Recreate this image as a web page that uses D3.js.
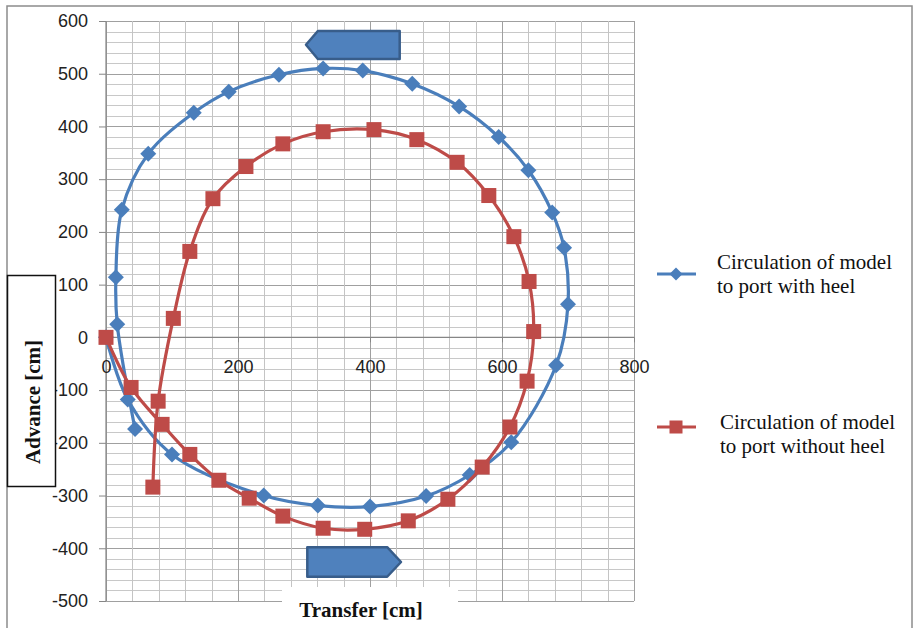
<!DOCTYPE html>
<html><head><meta charset="utf-8">
<script src="https://cdn.jsdelivr.net/npm/d3@7"></script>
<style>body{margin:0;background:#fff}svg{display:block}</style>
</head><body>
<svg id="c" width="915" height="628"></svg>
<script>
// ---- data ----
const withHeelX = [0, 33, 100, 239, 321, 400, 485, 551, 614, 682, 700, 694, 676, 640, 595, 535, 464, 389, 329, 262, 186, 133, 64, 24, 15, 17, 44];
const withHeelY = [0, -118, -222, -300, -319, -321, -301, -261, -199, -53, 63, 170, 237, 317, 380, 438, 481, 506, 510, 498, 466, 426, 348, 242, 114, 25, -174];
const withoutHeelX = [0, 38, 85, 127, 171, 217, 268, 329, 392, 458, 518, 570, 612, 638, 648, 641, 618, 580, 532, 471, 406, 329, 268, 212, 162, 127, 102, 79, 71];
const withoutHeelY = [0, -95, -165, -222, -271, -305, -339, -362, -364, -348, -307, -246, -170, -83, 11, 106, 191, 269, 332, 375, 394, 390, 367, 324, 263, 163, 36, -121, -284];
const xTicks = [0, 200, 400, 600, 800];
const yTicks = [-500, -400, -300, -200, -100, 0, 100, 200, 300, 400, 500, 600];
const seriesNames = [["Circulation of model", "to port with heel"], ["Circulation of model", "to port without heel"]];
const xTitle = "Transfer [cm]";
const yTitle = "Advance [cm]";

const blue = "#4a7ebb", red = "#be4b48";
const svg = d3.select("#c");
const x = d3.scaleLinear().domain([0, 800]).range([106, 634]);
const y = d3.scaleLinear().domain([-500, 600]).range([601, 21]);

// outer border
svg.append("rect").attr("x", 7).attr("y", 6).attr("width", 905).attr("height", 640)
  .attr("fill", "none").attr("stroke", "#8c8c8c").attr("stroke-width", 1.5);

// grid
const g = svg.append("g");
d3.range(-500, 601, 20).forEach(v => {
  const major = v % 100 === 0;
  g.append("line").attr("x1", x(0)).attr("x2", x(800)).attr("y1", Math.round(y(v)) + 0.5).attr("y2", Math.round(y(v)) + 0.5)
    .attr("stroke", major ? "#a0a0a0" : "#c8c8c8").attr("stroke-width", 1);
});
d3.range(0, 801, 40).forEach(v => {
  const major = v % 200 === 0;
  g.append("line").attr("y1", y(600)).attr("y2", y(-500)).attr("x1", Math.round(x(v)) + 0.5).attr("x2", Math.round(x(v)) + 0.5)
    .attr("stroke", major ? "#a0a0a0" : "#c4c4c4").attr("stroke-width", 1);
});
// axes lines
g.append("line").attr("x1", x(0)).attr("x2", x(800)).attr("y1", y(0)).attr("y2", y(0)).attr("stroke", "#868686").attr("stroke-width", 1.2);
g.append("line").attr("x1", x(0)).attr("x2", x(0)).attr("y1", y(600)).attr("y2", y(-500)).attr("stroke", "#868686").attr("stroke-width", 1.2);

const fmt = d => String(d);
// y axis ticks & labels
const yAxis = d3.axisLeft(y).tickValues(yTicks).tickSize(7).tickPadding(11).tickFormat(fmt);
svg.append("g").attr("transform", `translate(${x(0)},0)`).call(yAxis)
  .call(a => { a.select(".domain").remove(); a.selectAll("line").attr("stroke", "#868686");
    a.selectAll("text").attr("font-family", "Liberation Sans, Arial, sans-serif").attr("font-size", 18).attr("fill", "#222"); });
// x axis ticks & labels
const xAxis = d3.axisBottom(x).tickValues(xTicks).tickSize(5).tickPadding(18).tickFormat(fmt);
svg.append("g").attr("transform", `translate(0,${y(0)})`).call(xAxis)
  .call(a => { a.select(".domain").remove(); a.selectAll("line").attr("stroke", "#868686");
    a.selectAll("text").attr("font-family", "Liberation Sans, Arial, sans-serif").attr("font-size", 18).attr("fill", "#222"); });

// series
const line = d3.line().x(d => x(d[0])).y(d => y(d[1])).curve(d3.curveCatmullRom.alpha(0.5));
const s1 = withHeelX.map((v, i) => [v, withHeelY[i]]);
const s2 = withoutHeelX.map((v, i) => [v, withoutHeelY[i]]);
const diamond = s => `M0,${-s}L${s},0L0,${s}L${-s},0Z`;

svg.append("path").datum(s1).attr("d", line).attr("fill", "none").attr("stroke", blue).attr("stroke-width", 3.2);
svg.append("g").selectAll("path").data(s1).join("path")
  .attr("d", diamond(8)).attr("transform", d => `translate(${x(d[0])},${y(d[1])})`).attr("fill", blue);

svg.append("path").datum(s2).attr("d", line).attr("fill", "none").attr("stroke", red).attr("stroke-width", 3.2);
svg.append("g").selectAll("rect").data(s2).join("rect")
  .attr("x", d => x(d[0]) - 7.5).attr("y", d => y(d[1]) - 7.5).attr("width", 15).attr("height", 15).attr("fill", red);

// arrows (annotation shapes)
const arrowFill = "#4f81bd", arrowStroke = "#385d8a";
const topA = [[303, 555], [321, 581], [445, 581], [445, 528], [321, 528]];
svg.append("path").attr("d", "M" + topA.map(p => [x(p[0]), y(p[1])].join(",")).join("L") + "Z")
  .attr("fill", arrowFill).attr("stroke", arrowStroke).attr("stroke-width", 2.5).attr("stroke-linejoin", "round");
const botA = [[305, -398], [426, -398], [447, -426], [426, -454], [305, -454]];
svg.append("path").attr("d", "M" + botA.map(p => [x(p[0]), y(p[1])].join(",")).join("L") + "Z")
  .attr("fill", arrowFill).attr("stroke", arrowStroke).attr("stroke-width", 2.5).attr("stroke-linejoin", "round");

// axis titles
svg.append("rect").attr("x", 282).attr("y", 587).attr("width", 176).attr("height", 45).attr("fill", "#fff");
svg.append("text").attr("x", 361).attr("y", 617).attr("text-anchor", "middle")
  .attr("font-family", "Liberation Serif, Times New Roman, serif").attr("font-weight", "bold").attr("font-size", 21)
  .attr("fill", "#111").text(xTitle);

svg.append("rect").attr("x", 7.5).attr("y", 275.5).attr("width", 48).attr("height", 211)
  .attr("fill", "#fff").attr("stroke", "#111").attr("stroke-width", 1.5);
svg.append("text").attr("transform", "translate(40,402) rotate(-90)").attr("text-anchor", "middle")
  .attr("font-family", "Liberation Serif, Times New Roman, serif").attr("font-weight", "bold").attr("font-size", 21)
  .attr("fill", "#111").text(yTitle);

// legend
const leg = [{c: blue, y: 274, ty: 269, tx: 717, m: "d"}, {c: red, y: 427, ty: 429, tx: 720, m: "s"}];
leg.forEach((l, i) => {
  svg.append("line").attr("x1", 657).attr("x2", 696).attr("y1", l.y).attr("y2", l.y).attr("stroke", l.c).attr("stroke-width", 3.2);
  if (l.m === "d") svg.append("path").attr("d", diamond(6.5)).attr("transform", `translate(676,${l.y})`).attr("fill", l.c);
  else svg.append("rect").attr("x", 669.5).attr("y", l.y - 6.5).attr("width", 13).attr("height", 13).attr("fill", l.c);
  const t = svg.append("text").attr("font-family", "Liberation Serif, Times New Roman, serif").attr("font-size", 21).attr("fill", "#111");
  seriesNames[i].forEach((s, j) => t.append("tspan").attr("x", l.tx).attr("y", l.ty + j * 24).text(s));
});
</script>
</body></html>
